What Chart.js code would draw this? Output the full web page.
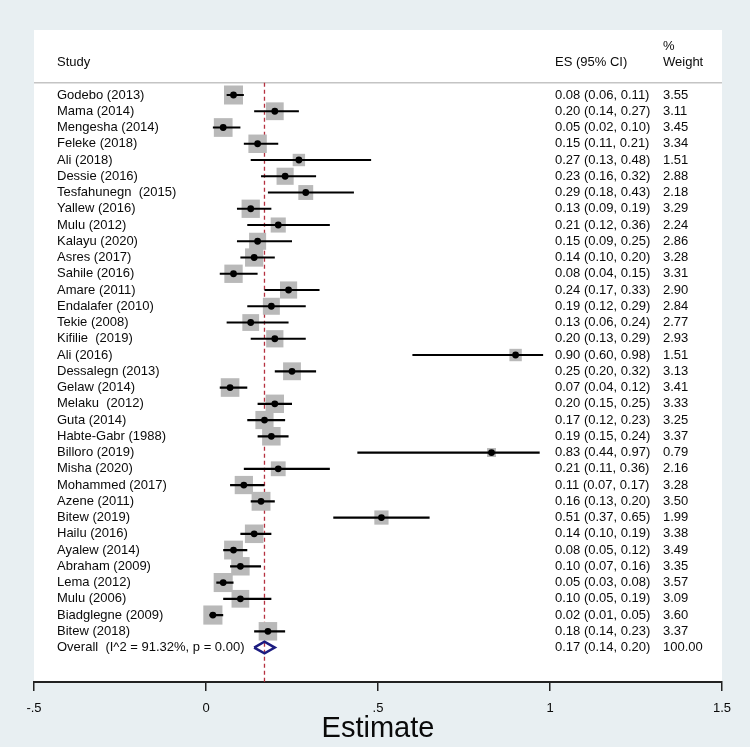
<!DOCTYPE html>
<html>
<head>
<meta charset="utf-8">
<title>Forest plot</title>
<script src="https://cdn.jsdelivr.net/npm/chart.js@4"></script>
<style>
  html, body { margin: 0; padding: 0; background: #e8eff2; }
  canvas { display: block; }
</style>
</head>
<body>
<canvas id="forest" width="750" height="747"></canvas>
<script>
const studies = [
  "Godebo (2013)", "Mama (2014)", "Mengesha (2014)", "Feleke (2018)", "Ali (2018)",
  "Dessie (2016)", "Tesfahunegn  (2015)", "Yallew (2016)", "Mulu (2012)", "Kalayu (2020)",
  "Asres (2017)", "Sahile (2016)", "Amare (2011)", "Endalafer (2010)", "Tekie (2008)",
  "Kifilie  (2019)", "Ali (2016)", "Dessalegn (2013)", "Gelaw (2014)", "Melaku  (2012)",
  "Guta (2014)", "Habte-Gabr (1988)", "Billoro (2019)", "Misha (2020)", "Mohammed (2017)",
  "Azene (2011)", "Bitew (2019)", "Hailu (2016)", "Ayalew (2014)", "Abraham (2009)",
  "Lema (2012)", "Mulu (2006)", "Biadglegne (2009)", "Bitew (2018)"
];
const es = [0.08, 0.20, 0.05, 0.15, 0.27, 0.23, 0.29, 0.13, 0.21, 0.15,
  0.14, 0.08, 0.24, 0.19, 0.13, 0.20, 0.90, 0.25, 0.07, 0.20,
  0.17, 0.19, 0.83, 0.21, 0.11, 0.16, 0.51, 0.14, 0.08, 0.10,
  0.05, 0.10, 0.02, 0.18];
const ciLow = [0.06, 0.14, 0.02, 0.11, 0.13, 0.16, 0.18, 0.09, 0.12, 0.09,
  0.10, 0.04, 0.17, 0.12, 0.06, 0.13, 0.60, 0.20, 0.04, 0.15,
  0.12, 0.15, 0.44, 0.11, 0.07, 0.13, 0.37, 0.10, 0.05, 0.07,
  0.03, 0.05, 0.01, 0.14];
const ciHigh = [0.11, 0.27, 0.10, 0.21, 0.48, 0.32, 0.43, 0.19, 0.36, 0.25,
  0.20, 0.15, 0.33, 0.29, 0.24, 0.29, 0.98, 0.32, 0.12, 0.25,
  0.23, 0.24, 0.97, 0.36, 0.17, 0.20, 0.65, 0.19, 0.12, 0.16,
  0.08, 0.19, 0.05, 0.23];
const weights = [3.55, 3.11, 3.45, 3.34, 1.51, 2.88, 2.18, 3.29, 2.24, 2.86,
  3.28, 3.31, 2.90, 2.84, 2.77, 2.93, 1.51, 3.13, 3.41, 3.33,
  3.25, 3.37, 0.79, 2.16, 3.28, 3.50, 1.99, 3.38, 3.49, 3.35,
  3.57, 3.09, 3.60, 3.37];

const overallLabel = "Overall  (I^2 = 91.32%, p = 0.00)";
const overallEs = 0.17;
const overallLow = 0.14;
const overallHigh = 0.20;
const overallWeight = 100.00;

const xTickValues = [-0.5, 0, 0.5, 1, 1.5];
const xTickLabels = ["-.5", "0", ".5", "1", "1.5"];

const FONT = "'Liberation Sans', Arial, sans-serif";
const overallRow = studies.length;
const yMin = -4, yMax = 36.12;

// square side grows with sqrt of weight (area ~ weight)
const squareRadius = weights.map(w => 19 * Math.sqrt(w / 3.55) / Math.SQRT2);

const ciPoints = [];
es.forEach((v, i) => {
  ciPoints.push({ x: ciLow[i], y: i }, { x: ciHigh[i], y: i }, { x: null, y: null });
});

const fmt = v => v.toFixed(2);

const forestText = {
  id: 'forestText',
  beforeDraw(chart) {
    const { ctx, chartArea: a } = chart;
    const y = chart.scales.y;
    ctx.save();
    ctx.fillStyle = '#ffffff';
    ctx.fillRect(a.left, a.top, a.right - a.left, a.bottom - a.top);
    ctx.strokeStyle = '#c4c4c4';
    ctx.lineWidth = 1.5;
    ctx.beginPath();
    ctx.moveTo(a.left, y.getPixelForValue(-0.75));
    ctx.lineTo(a.right, y.getPixelForValue(-0.75));
    ctx.stroke();
    ctx.restore();
  },
  afterDraw(chart) {
    const { ctx } = chart;
    const y = chart.scales.y;
    ctx.save();
    ctx.font = '13px ' + FONT;
    ctx.fillStyle = '#0a0a0a';
    ctx.textAlign = 'left';
    ctx.textBaseline = 'middle';
    ctx.fillText('Study', 57, y.getPixelForValue(-2));
    ctx.fillText('ES (95% CI)', 555, y.getPixelForValue(-2));
    ctx.fillText('%', 663, y.getPixelForValue(-3));
    ctx.fillText('Weight', 663, y.getPixelForValue(-2));
    studies.forEach((s, i) => {
      const py = y.getPixelForValue(i);
      ctx.fillText(s, 57, py);
      ctx.fillText(`${fmt(es[i])} (${fmt(ciLow[i])}, ${fmt(ciHigh[i])})`, 555, py);
      ctx.fillText(fmt(weights[i]), 663, py);
    });
    const po = y.getPixelForValue(overallRow);
    ctx.fillText(overallLabel, 57, po);
    ctx.fillText(`${fmt(overallEs)} (${fmt(overallLow)}, ${fmt(overallHigh)})`, 555, po);
    ctx.fillText(fmt(overallWeight), 663, po);
    ctx.restore();
  }
};

new Chart(document.getElementById('forest'), {
  type: 'scatter',
  data: {
    datasets: [
      {
        label: 'overall line',
        data: [{ x: overallEs, y: -0.75 }, { x: overallEs, y: yMax }],
        showLine: true,
        borderColor: '#b5303f',
        borderWidth: 1.3,
        borderDash: [4, 3],
        pointRadius: 0,
        order: 5
      },
      {
        label: 'weights',
        data: es.map((v, i) => ({ x: v, y: i })),
        pointStyle: 'rect',
        pointRadius: squareRadius,
        backgroundColor: '#b9b9b9',
        borderWidth: 0,
        order: 4
      },
      {
        label: 'ci',
        data: ciPoints,
        showLine: true,
        spanGaps: false,
        borderColor: '#000000',
        borderWidth: 2.2,
        pointRadius: 0,
        order: 3
      },
      {
        label: 'es',
        data: es.map((v, i) => ({ x: v, y: i })),
        pointStyle: 'circle',
        pointRadius: 3.4,
        backgroundColor: '#000000',
        borderWidth: 0,
        order: 2
      },
      {
        label: 'overall',
        data: [
          { x: overallLow, y: overallRow },
          { x: overallEs, y: overallRow - 0.36 },
          { x: overallHigh, y: overallRow },
          { x: overallEs, y: overallRow + 0.36 },
          { x: overallLow, y: overallRow }
        ],
        showLine: true,
        borderColor: '#1c1c80',
        borderWidth: 2.5,
        borderJoinStyle: 'miter',
        backgroundColor: 'rgba(0,0,0,0)',
        pointRadius: 0,
        order: 1
      }
    ]
  },
  options: {
    responsive: false,
    animation: false,
    events: [],
    layout: { padding: { left: 34, right: 28, top: 30, bottom: 0 } },
    plugins: {
      legend: { display: false },
      tooltip: { enabled: false }
    },
    scales: {
      x: {
        type: 'linear',
        min: -0.5,
        max: 1.5,
        afterBuildTicks: s => { s.ticks = xTickValues.map(v => ({ value: v })); },
        afterFit: s => { s.height = 65; },
        ticks: {
          callback: (v, i) => xTickLabels[i],
          font: { family: FONT, size: 13 },
          color: '#0a0a0a',
          padding: 10,
          maxRotation: 0,
          autoSkip: false
        },
        grid: { drawOnChartArea: false, drawTicks: true, tickLength: 9, color: '#222222', lineWidth: 1.5 },
        border: { display: true, color: '#222222', width: 2 },
        title: {
          display: true,
          text: 'Estimate',
          font: { family: FONT, size: 29 },
          color: '#0a0a0a',
          padding: { top: 0, bottom: 1 }
        }
      },
      y: {
        type: 'linear',
        reverse: true,
        min: yMin,
        max: yMax,
        display: false
      }
    }
  },
  plugins: [forestText]
});
</script>
</body>
</html>
